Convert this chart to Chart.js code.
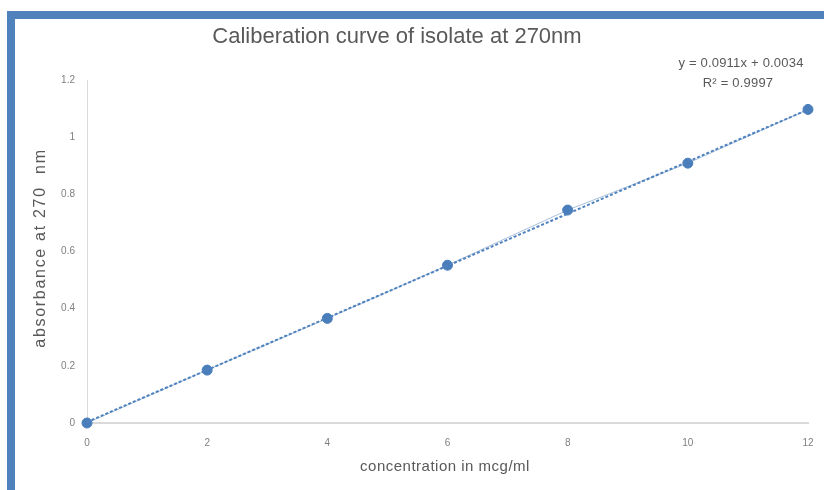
<!DOCTYPE html>
<html>
<head>
<meta charset="utf-8">
<script src="https://cdn.jsdelivr.net/npm/chart.js@4/dist/chart.umd.min.js"></script>
<style>
  html, body { margin: 0; padding: 0; background: #fff; }
  #frame {
    position: absolute; left: 7px; top: 11px;
    width: 809px; height: 471px;
    border-left: 8px solid #4f81bd; border-top: 8px solid #4f81bd;
  }
  canvas { display: block; }
</style>
</head>
<body>
<div id="frame"><canvas id="myChart" width="809" height="471"></canvas></div>
<script>
// data
const concentration = [0, 2, 4, 6, 8, 10, 12];
const absorbance = [0, 0.185, 0.366, 0.552, 0.745, 0.909, 1.097];
// trendline end points as shown by the equation label
const trendX = [0, 12];
const trendY = [0.0034, 1.0966];
const xTicks = [0, 2, 4, 6, 8, 10, 12];
const yTicks = [0, 0.2, 0.4, 0.6, 0.8, 1, 1.2];

const titleText = "Caliberation curve of isolate at 270nm";
const xTitle = "concentration in mcg/ml";
const yTitle = "absorbance at 270  nm";
const eqText = "y = 0.0911x + 0.0034";
const r2Text = "R\u00b2 = 0.9997";

const fontFam = "'Liberation Sans', Arial, sans-serif";

function drawText(ctx, text, x, y, size, spacing, rot) {
    ctx.save();
    ctx.translate(x, y);
    if (rot) ctx.rotate(rot);
    ctx.font = size + "px " + fontFam;
    ctx.letterSpacing = spacing + "px";
    ctx.fillText(text, 0, 0);
    ctx.restore();
}

const textPlugin = {
    id: "texts",
    afterDraw(chart) {
        const ctx = chart.ctx;
        ctx.save();
        ctx.fillStyle = "#595959";
        ctx.textAlign = "center";
        ctx.textBaseline = "middle";
        drawText(ctx, titleText, 382, 18, 22, 0);
        drawText(ctx, xTitle, 430, 448, 15, 0.5);
        drawText(ctx, yTitle, 26, 229, 16, 1.7, -Math.PI / 2);
        drawText(ctx, eqText, 726, 44, 13, 0.2);
        drawText(ctx, r2Text, 723, 64, 13, 0.2);
        ctx.restore();
    }
};

const ctx = document.getElementById("myChart").getContext("2d");
new Chart(ctx, {
    type: "scatter",
    data: {
        datasets: [
            {
                label: "trend",
                data: trendX.map((x, i) => ({ x: x, y: trendY[i] })),
                showLine: true,
                borderColor: "#4f81bd",
                borderWidth: 2,
                borderDash: [3, 2],
                pointRadius: 0,
                clip: false
            },
            {
                label: "absorbance",
                data: concentration.map((x, i) => ({ x: x, y: absorbance[i] })),
                showLine: true,
                borderColor: "rgba(79,129,189,0.5)",
                borderWidth: 1,
                pointRadius: 5,
                pointBackgroundColor: "#4a7ebb",
                pointBorderColor: "#4a7ebb",
                clip: false
            }
        ]
    },
    options: {
        responsive: false,
        animation: false,
        layout: { padding: { top: 61, right: 16, left: 0, bottom: 0 } },
        plugins: {
            legend: { display: false },
            tooltip: { enabled: false }
        },
        scales: {
            x: {
                type: "linear",
                min: 0,
                max: 12,
                afterBuildTicks: s => { s.ticks = xTicks.map(v => ({ value: v })); },
                grid: { display: false, drawTicks: false },
                border: { color: "#d9d9d9", width: 2 },
                ticks: { color: "#7f7f7f", font: { size: 10, family: fontFam }, padding: 14 },
                afterFit: s => { s.height = 67; s.paddingRight = 0; s.paddingLeft = 0; }
            },
            y: {
                min: 0,
                max: 1.2,
                afterBuildTicks: s => { s.ticks = yTicks.map(v => ({ value: v })); },
                grid: { display: false, drawTicks: false },
                border: { color: "#d9d9d9", width: 1 },
                ticks: {
                    color: "#7f7f7f",
                    font: { size: 10, family: fontFam },
                    padding: 12,
                    callback: v => String(Math.round(v * 10) / 10)
                },
                afterFit: s => { s.width = 72; }
            }
        }
    },
    plugins: [textPlugin]
});
</script>
</body>
</html>
